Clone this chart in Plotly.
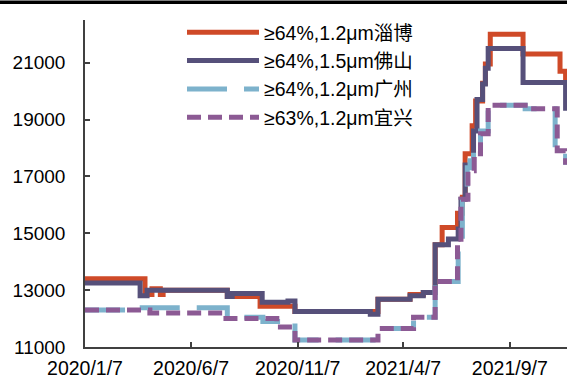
import plotly.graph_objects as go

# ---- data ----
names = ["≥64%,1.2μm淄博", "≥64%,1.5μm佛山", "≥64%,1.2μm广州", "≥63%,1.2μm宜兴"]

zibo_dates = ["2020-01-07", "2020-04-02", "2020-04-12", "2020-04-24", "2020-04-28",
              "2020-07-29", "2020-09-14", "2020-11-03", "2021-03-02", "2021-04-17",
              "2021-05-06", "2021-05-23", "2021-06-02", "2021-06-24", "2021-07-01",
              "2021-07-05", "2021-07-15", "2021-07-20", "2021-07-30", "2021-08-03",
              "2021-08-10", "2021-09-26", "2021-11-18", "2021-11-26", "2021-12-10"]
zibo_vals = [13400, 12850, 13050, 12850, 13000,
             12780, 12430, 12250, 12680, 12850,
             12920, 14600, 15200, 15700, 16270,
             17800, 18780, 19650, 20280, 20950,
             22000, 21300, 20700, 20300, 20300]

foshan_dates = ["2020-01-07", "2020-03-26", "2020-04-05", "2020-07-29", "2020-08-05",
                "2020-09-17", "2020-10-24", "2020-11-03", "2021-02-19", "2021-03-02",
                "2021-04-17", "2021-05-06", "2021-05-23", "2021-06-11", "2021-06-25",
                "2021-06-29", "2021-07-05", "2021-07-17", "2021-07-22", "2021-07-30",
                "2021-08-03", "2021-08-07", "2021-09-26", "2021-11-26", "2021-12-10"]
foshan_vals = [13250, 12800, 13000, 12780, 12880,
               12570, 12620, 12250, 12150, 12680,
               12800, 12920, 14600, 14800, 15150,
               16200, 17400, 18600, 19700, 20250,
               20800, 21500, 20300, 19400, 19400]

guangzhou_dates = ["2020-01-07", "2020-03-23", "2020-07-29", "2020-09-18", "2020-11-03",
                   "2021-03-02", "2021-04-22", "2021-05-23", "2021-06-25", "2021-07-01",
                   "2021-07-08", "2021-07-12", "2021-07-17", "2021-07-27", "2021-08-07",
                   "2021-09-29", "2021-11-11", "2021-11-26", "2021-12-10"]
guangzhou_vals = [12300, 12380, 12050, 11900, 11250,
                  11650, 12050, 13300, 14770, 16270,
                  17300, 17550, 17900, 18600, 19500,
                  19380, 17900, 17500, 17500]

yixing_dates = ["2020-01-07", "2020-04-09", "2020-07-23", "2020-10-08", "2020-11-03",
                "2021-03-02", "2021-04-22", "2021-05-23", "2021-06-24", "2021-06-29",
                "2021-07-09", "2021-07-18", "2021-07-27", "2021-08-07", "2021-09-29",
                "2021-11-14", "2021-11-26", "2021-12-10"]
yixing_vals = [12300, 12200, 12000, 11700, 11250,
               11650, 12050, 13300, 14700, 16200,
               17200, 17800, 18500, 19500, 19380,
               17900, 17500, 17500]

x_tick_vals = ["2020-01-07", "2020-06-07", "2020-11-07", "2021-04-07", "2021-09-07"]
x_tick_text = ["2020/1/7", "2020/6/7", "2020/11/7", "2021/4/7", "2021/9/7"]
y_tick_vals = [11000, 13000, 15000, 17000, 19000, 21000]
y_tick_text = ["11000", "13000", "15000", "17000", "19000", "21000"]

# ---- styles ----
FONT = "Liberation Sans, Arial, Noto Sans CJK SC, sans-serif"
colors = ["#CF4A28", "#56507A", "#7DB2CC", "#8C5A94"]
dashes = ["solid", "solid", "40px,17px", "14px,7px"]
series = [(zibo_dates, zibo_vals), (foshan_dates, foshan_vals),
          (guangzhou_dates, guangzhou_vals), (yixing_dates, yixing_vals)]

fig = go.Figure()
for i, (d, v) in enumerate(series):
    fig.add_trace(go.Scatter(
        x=d, y=v, name=names[i], mode="lines", line_shape="hv",
        line=dict(color=colors[i], width=5, dash=dashes[i]),
    ))

W, H = 567, 378
L, R, T, B = 85, 0, 20, 31
pw = W - L - R
ph = H - T - B

fig.update_layout(
    width=W, height=H,
    margin=dict(l=L, r=R, t=T, b=B, autoexpand=False),
    paper_bgcolor="white", plot_bgcolor="white",
    font=dict(family=FONT, size=19.5, color="#000000"),
    showlegend=True,
    legend=dict(
        xref="container", yref="container",
        x=182 / W, y=1 - 13 / H, xanchor="left", yanchor="top",
        bgcolor="rgba(0,0,0,0)", borderwidth=0, itemwidth=72,
        font=dict(family=FONT, size=19.5, color="#000000"),
    ),
    xaxis=dict(
        type="date", range=["2020-01-07", "2021-11-28"], automargin=False,
        tickmode="array", tickvals=x_tick_vals, ticktext=x_tick_text,
        ticks="inside", ticklen=5, tickwidth=1.5, tickcolor="#404040",
        showline=True, linecolor="#404040", linewidth=1.5,
        showgrid=False, zeroline=False, ticklabelstandoff=3,
        tickfont=dict(family=FONT, size=19.5, color="#000000"),
    ),
    yaxis=dict(
        range=[11000, 22500], automargin=False,
        tickmode="array", tickvals=y_tick_vals, ticktext=y_tick_text,
        ticks="inside", ticklen=5, tickwidth=1.5, tickcolor="#404040",
        showline=True, linecolor="#404040", linewidth=1.5,
        showgrid=False, zeroline=False, ticklabelstandoff=14,
        tickfont=dict(family=FONT, size=19, color="#000000"),
    ),
    shapes=[dict(type="rect", xref="paper", yref="paper", layer="above",
                 x0=-(L + 2) / pw, x1=1.01, y0=1 + (T - 4) / ph, y1=1 + (T - 0.5) / ph,
                 fillcolor="#000000", line=dict(width=0))],
)

fig.write_html("out.html",
               config={"displayModeBar": False},
               post_script="document.body.style.margin='0';document.body.style.overflow='hidden';")
